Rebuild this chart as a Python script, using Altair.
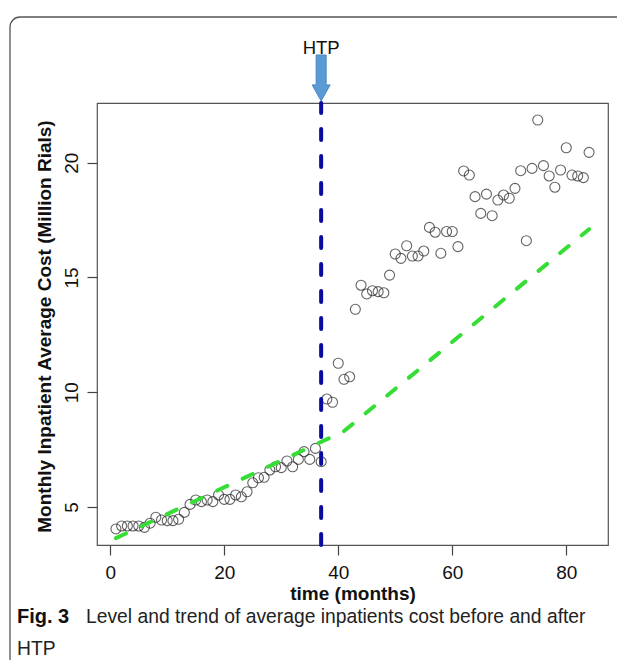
import altair as alt
import pandas as pd

# ---- data ----
month = list(range(1, 85))
cost = [4.04, 4.17, 4.17, 4.17, 4.17, 4.11, 4.29, 4.55, 4.43, 4.40,
        4.40, 4.46, 4.76, 5.11, 5.30, 5.23, 5.30, 5.23, 5.52, 5.33,
        5.33, 5.52, 5.44, 5.66, 6.05, 6.27, 6.29, 6.61, 6.75, 6.71,
        7.00, 6.75, 7.07, 7.41, 7.07, 7.55, 6.97,
        9.70, 9.56, 11.26, 10.56, 10.67, 13.61, 14.66, 14.28, 14.42,
        14.38, 14.33, 15.10, 16.02,
        15.83, 16.38, 15.93, 15.93, 16.15, 17.18, 16.97, 16.05, 17.00, 17.00,
        16.34, 19.64, 19.46, 18.52, 17.79, 18.63, 17.69, 18.37, 18.59, 18.45,
        18.88, 19.65, 16.60, 19.75, 21.86, 19.87, 19.42, 18.93, 19.68, 20.65,
        19.46, 19.42, 19.35, 20.45]

trend_month = [1, 41, 84]
trend_cost = [3.64, 8.30, 17.10]

htp_month = 37
x_ticks = [0, 20, 40, 60, 80]
y_ticks = [5, 10, 15, 20]

pts = pd.DataFrame({"month": month, "cost": cost})
trend = pd.DataFrame({"month": trend_month, "cost": trend_cost})
one = pd.DataFrame({"a": [0]})

W, H = 511, 442
FONT = "Liberation Sans"

xs = alt.Scale(domain=[-2.32, 87.32], nice=False, zero=False)
ys = alt.Scale(domain=[3.34, 22.6], nice=False, zero=False)

x_axis = alt.Axis(values=x_ticks, title="time (months)", grid=False, domain=False,
                  tickColor="#444", tickSize=10, tickWidth=1.2,
                  labelFont=FONT, labelFontSize=19, labelColor="#111", labelPadding=8,
                  titleFont=FONT, titleFontSize=19, titleFontWeight="bold", titleColor="#111",
                  titleBaseline="alphabetic", titleY=54)
y_axis = alt.Axis(values=y_ticks, title="Monthly Inpatient Average Cost (Million Rials)",
                  grid=False, domain=False,
                  tickColor="#444", tickSize=10, tickWidth=1.2,
                  labelFont=FONT, labelFontSize=19, labelColor="#111",
                  labelAngle=-90, labelAlign="center", labelBaseline="alphabetic",
                  labelPadding=10,
                  titleFont=FONT, titleFontSize=19, titleFontWeight="bold", titleColor="#111",
                  titleBaseline="alphabetic", titleX=-47, titleY=H / 2 + 2)

points = alt.Chart(pts).mark_point(shape="circle", filled=False, size=100,
                                   stroke="#222", strokeWidth=1.1).encode(
    x=alt.X("month:Q", scale=xs, axis=x_axis),
    y=alt.Y("cost:Q", scale=ys, axis=y_axis),
)

green = alt.Chart(trend).mark_line(color="#35dd35", strokeWidth=4, strokeDash=[11, 17],
                                   strokeCap="round").encode(
    x=alt.X("month:Q", scale=xs), y=alt.Y("cost:Q", scale=ys))

blue = alt.Chart(one).mark_rule(color="#0a0a9e", strokeWidth=4, strokeDash=[11, 16],
                                strokeCap="round").encode(
    x=alt.datum(htp_month, scale=xs), y=alt.value(H), y2=alt.value(0))

arrow_path = "M-0.217,-1 L0.217,-1 L0.217,0.3 L0.39,0.3 L0,1 L-0.39,0.3 L-0.217,0.3 Z"
arrow = alt.Chart(one).mark_point(shape=arrow_path, size=2116, filled=True,
                                  fill="#5b9bd5", stroke="#4a86c0", strokeWidth=1,
                                  opacity=1).encode(
    x=alt.datum(htp_month, scale=xs), y=alt.value(-25))

htp_text = alt.Chart(one).mark_text(text="HTP", font=FONT, fontSize=18.5, color="#111",
                                    align="center", baseline="alphabetic").encode(
    x=alt.datum(htp_month, scale=xs), y=alt.value(-49))

cap_bold = alt.Chart(one).mark_text(text="Fig. 3", font=FONT, fontSize=20, fontWeight="bold",
                                    color="#111", align="left", baseline="alphabetic").encode(
    x=alt.value(-80), y=alt.value(520))
cap_1 = alt.Chart(one).mark_text(text="Level and trend of average inpatients cost before and after",
                                 font=FONT, fontSize=19.3, color="#222", align="left",
                                 baseline="alphabetic").encode(
    x=alt.value(-11), y=alt.value(520))
cap_2 = alt.Chart(one).mark_text(text="HTP", font=FONT, fontSize=19.3, color="#222", align="left",
                                 baseline="alphabetic").encode(
    x=alt.value(-80), y=alt.value(552))

border = alt.Chart(one).mark_rect(fill="white", fillOpacity=0, stroke="#555", strokeWidth=1.3,
                                  cornerRadius=10).encode(
    x=alt.value(-87), x2=alt.value(700), y=alt.value(-86), y2=alt.value(700))

chart = alt.layer(points, green, blue, arrow, htp_text, cap_bold, cap_1, cap_2, border).properties(
    width=W, height=H,
    padding={"left": 89, "top": 95, "right": 9, "bottom": 115},
    autosize=alt.AutoSizeParams(type="none"),
    background="white",
).configure_view(stroke="#555", strokeWidth=1.2)

chart.save("out.html", embed_options={"renderer": "svg", "actions": False})
